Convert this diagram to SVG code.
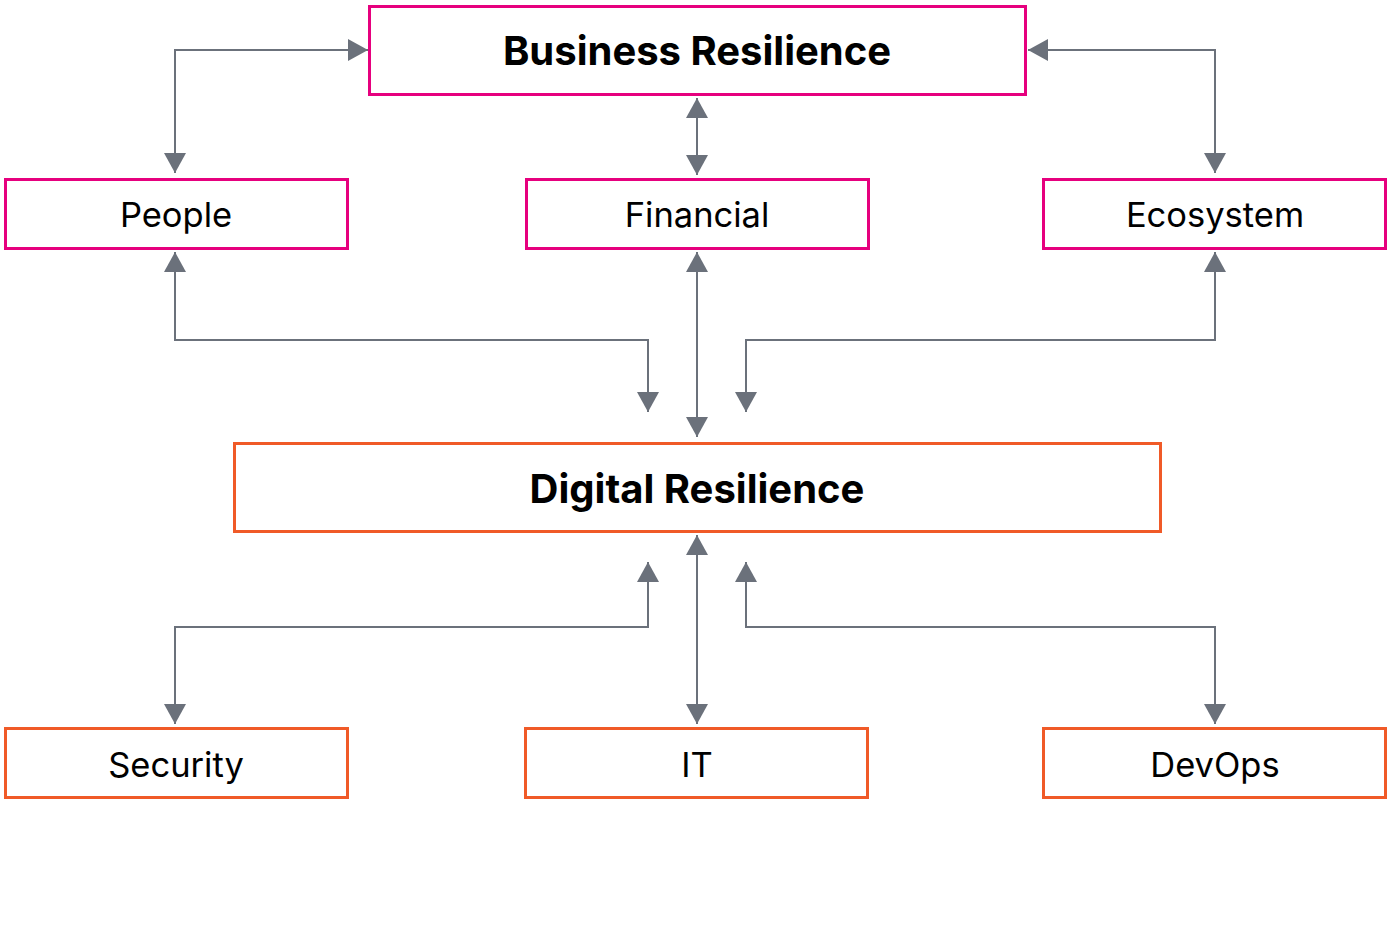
<svg xmlns="http://www.w3.org/2000/svg" width="1392" height="942" viewBox="0 0 1392 942">
<style>
.pk{fill:#fff;stroke:#e6007e;stroke-width:3}
.or{fill:#fff;stroke:#f05a28;stroke-width:3}
.t{font-family:Inter,"Liberation Sans",sans-serif;font-size:34.5px;fill:#000;text-anchor:middle}
.b{font-weight:bold;font-size:40px}
.c{fill:none;stroke:#6b717b;stroke-width:2}
</style>
<defs>
<marker id="ah" viewBox="0 0 20 22" refX="20" refY="11" markerWidth="20" markerHeight="22" markerUnits="userSpaceOnUse" orient="auto-start-reverse">
<path d="M0,0 L20,11 L0,22 Z" fill="#6b717b"/>
</marker>
</defs>
<rect width="1392" height="942" fill="#fff"/>
<g id="connectors">
<path class="c" d="M175,173 V50 H368" marker-start="url(#ah)" marker-end="url(#ah)"/>
<path class="c" d="M697,98 V175" marker-start="url(#ah)" marker-end="url(#ah)"/>
<path class="c" d="M1028,50 H1215 V173" marker-start="url(#ah)" marker-end="url(#ah)"/>
<path class="c" d="M175,252 V340 H648 V412" marker-start="url(#ah)" marker-end="url(#ah)"/>
<path class="c" d="M697,252 V437" marker-start="url(#ah)" marker-end="url(#ah)"/>
<path class="c" d="M1215,252 V340 H746 V412" marker-start="url(#ah)" marker-end="url(#ah)"/>
<path class="c" d="M648,562 V627 H175 V724" marker-start="url(#ah)" marker-end="url(#ah)"/>
<path class="c" d="M697,535 V724" marker-start="url(#ah)" marker-end="url(#ah)"/>
<path class="c" d="M746,562 V627 H1215 V724" marker-start="url(#ah)" marker-end="url(#ah)"/>
</g>
<g id="business"><rect class="pk" x="369.5" y="6.5" width="656" height="88"/><text class="t b" x="697" y="65">Business Resilience</text></g>
<g id="people"><rect class="pk" x="5.5" y="179.5" width="342" height="69"/><text class="t" x="176" y="227">People</text></g>
<g id="financial"><rect class="pk" x="526.5" y="179.5" width="342" height="69"/><text class="t" x="697" y="227">Financial</text></g>
<g id="ecosystem"><rect class="pk" x="1043.5" y="179.5" width="342" height="69"/><text class="t" x="1215" y="227">Ecosystem</text></g>
<g id="digital"><rect class="or" x="234.5" y="443.5" width="926" height="88"/><text class="t b" x="697" y="503">Digital Resilience</text></g>
<g id="security"><rect class="or" x="5.5" y="728.5" width="342" height="69"/><text class="t" x="176" y="777">Security</text></g>
<g id="it"><rect class="or" x="525.5" y="728.5" width="342" height="69"/><text class="t" x="697" y="777">IT</text></g>
<g id="devops"><rect class="or" x="1043.5" y="728.5" width="342" height="69"/><text class="t" x="1215" y="777">DevOps</text></g>
</svg>
